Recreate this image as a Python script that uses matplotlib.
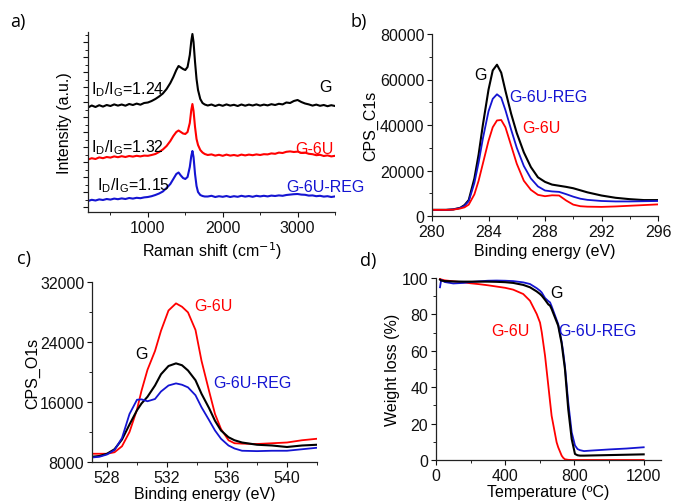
import matplotlib
matplotlib.use("Agg")
import matplotlib.pyplot as plt
from matplotlib.ticker import MultipleLocator, NullFormatter

plt.rcParams['font.family'] = ['Liberation Sans', 'DejaVu Sans']
plt.rcParams['font.size'] = 11.5

BLACK = '#000000'
RED = '#ff0000'
BLUE = '#1414d2'

# ---- a) Raman spectra (offset, arbitrary units) ----
raman_x = [200, 250, 300, 350, 400, 450, 500, 550, 600, 650, 700, 750, 800, 850, 900,
           950, 1000, 1050, 1100, 1150, 1200, 1250, 1300, 1340, 1380, 1410, 1440, 1470,
           1500, 1530, 1560, 1580, 1595, 1610, 1630, 1650, 1670, 1700, 1730, 1760, 1800,
           1850, 1900, 1950, 2000, 2050, 2100, 2150, 2200, 2250, 2300, 2350, 2400, 2450,
           2500, 2550, 2600, 2650, 2700, 2750, 2800, 2850, 2900, 2950, 3000, 3050, 3100,
           3150, 3200, 3250, 3300, 3350, 3400, 3450, 3500]
raman_g = [99.5, 101.5, 100, 101.8, 100.4, 102, 101, 102.6, 101.4, 102.5, 101.3, 103, 102,
           103.4, 102.3, 104, 104.5, 106, 108, 110.5, 113.5, 118, 124, 130, 137, 141, 139.5,
           138, 137, 140, 152, 166, 173, 165, 145, 128, 117, 108, 104, 102.5, 101.5,
           102.5, 101, 102.3, 101.2, 102.6, 101.4, 102.2, 101, 102.5, 101.3, 102.4, 101.5,
           102.6, 101.4, 102.4, 101.6, 102.8, 102, 103.2, 102.6, 104.5, 104, 106, 107, 105,
           103.5, 102.6, 101.4, 102.4, 101.2, 102, 100.8, 101.8, 101]
raman_g6u = [47.5, 48.8, 48, 49.6, 48.8, 50, 49.4, 50.6, 49.8, 50.8, 50, 51, 50.4, 51.2, 50.6,
             51.4, 51.2, 52, 53, 55, 57.5, 61, 66, 71, 75, 76.5, 75, 73.5, 73, 75, 84, 97,
             103, 96, 80, 68, 62, 57, 54.5, 53, 52,
             52.6, 51.4, 52.2, 51.2, 52.4, 51.4, 52, 51.2, 52.4, 51.6, 52.4, 51.8, 52.6,
             52, 52.8, 52.6, 53.6, 53.2, 54.4, 54, 55.2, 55.6, 55, 55.4, 54.2, 54.4, 53.2,
             52.8, 51.8, 52.2, 51, 51.6, 50.6, 51.2]
raman_g6ureg = [6, 7.2, 6.5, 7.6, 7, 8, 7.4, 8.4, 7.8, 8.6, 8, 9, 8.4, 9.2, 8.8,
                9.6, 10, 10.8, 12, 13.5, 15.5, 19, 23, 28, 33, 34.5, 31.5, 29, 28, 30, 40,
                51, 56, 50, 33, 21, 15, 12, 11, 10.5, 10.5,
                11.2, 10, 10.8, 10.2, 11, 10, 10.8, 10.2, 11.2, 10.4, 11, 10.2, 11.2,
                10.6, 11.2, 10.6, 11.4, 11, 11.6, 11.2, 12, 12.4, 12.8, 13, 12.4, 12.2,
                11.4, 11.6, 10.8, 11.2, 10.4, 10.8, 10, 10.6]
raman_ratios = ['1.24', '1.32', '1.15']

# ---- b) C1s XPS ----
c1s_x = [280, 281, 281.5, 282, 282.3, 282.6, 283, 283.3, 283.6, 284, 284.3, 284.6, 284.9,
         285.2, 285.6, 286, 286.5, 287, 287.5, 288, 288.5, 289, 289.5, 290, 290.5, 291,
         292, 293, 294, 295, 296]
c1s_g = [2700, 2700, 2900, 3600, 4800, 7000, 16500, 27000, 40000, 55500, 64000, 66500,
         63000, 55000, 45000, 36500, 28000, 21500, 17000, 15000, 13800, 13300, 12800,
         12200, 11300, 10400, 9000, 8000, 7400, 7000, 7000]
c1s_g6u = [2700, 2700, 2800, 3300, 3800, 5000, 9500, 15500, 23000, 33000, 39000, 42000,
           42200, 39000, 31000, 23000, 15500, 11500, 9300, 8700, 9100, 9000, 6800, 5000,
           4300, 4100, 4000, 4200, 4500, 4800, 5100]
c1s_g6ureg = [2700, 2700, 2900, 3500, 4500, 6500, 14500, 23500, 34000, 46000, 51500, 53500,
              52000, 46500, 38000, 30000, 22000, 16500, 13000, 11200, 10800, 10600, 9600,
              8500, 7600, 7100, 6600, 6400, 6400, 6500, 6600]

# ---- c) O1s XPS ----
o1s_x = [527, 527.5, 528, 528.5, 529, 529.5, 530, 530.3, 530.7, 531.2, 531.6, 532.1, 532.6,
         533, 533.4, 533.9, 534.3, 534.8, 535.2, 535.6, 536.1, 536.5, 537, 538, 539, 540,
         541, 542]
o1s_g = [8700, 8800, 9100, 9700, 11000, 13000, 14900, 15800, 16700, 18200, 19700, 20800,
         21150, 20900, 20200, 18900, 17100, 15200, 13500, 12200, 11300, 10900, 10600,
         10300, 10200, 10000, 10200, 10300]
o1s_g6u = [9100, 9100, 9100, 9300, 10100, 12000, 15000, 17500, 20300, 22800, 25500, 28200,
           29150, 28700, 27950, 25600, 21500, 17500, 14400, 12400, 10900, 10500, 10450,
           10400, 10500, 10600, 10900, 11100]
o1s_g6ureg = [8600, 8700, 9000, 9600, 11200, 14400, 16300, 16350, 16100, 16400, 17400, 18200,
              18480, 18300, 17950, 16900, 15300, 13600, 12200, 11100, 10200, 9800, 9500,
              9450, 9500, 9500, 9700, 9900]

# ---- d) TGA ----
tga_x = [23, 30, 50, 100, 158, 200, 250, 300, 350, 400, 446, 504, 543, 582, 601, 611, 630,
         649, 659, 668, 697, 706, 726, 735, 745, 764, 784, 803, 818, 832, 855, 900, 1000,
         1100, 1200]
tga_g = [99.1, 98.6, 98.3, 98.1, 98.0, 98.0, 98.0, 98.0, 97.9, 97.7, 97.3, 96.2, 94.9,
         92.6, 91.2, 90.3, 88.0, 85.5, 84.8, 83.0, 76.0, 73.8, 64.0, 57.3, 50.0, 28.0,
         11.5, 3.3, 2.6, 2.4, 2.4, 2.5, 2.7, 2.9, 3.1]
tga_g6u = [99.5, 99.2, 98.7, 98.2, 97.6, 97.1, 96.6, 96.0, 95.3, 94.6, 93.6, 91.2, 87.5,
           80.2, 75.5, 70.2, 57.3, 40.8, 32.0, 24.3, 9.7, 7.0, 2.4, 1.2, 0.4, 0.1, 0, 0, 0,
           0, 0, 0, 0, 0, 0]
tga_g6ureg = [94.9, 99.0, 97.8, 97.0, 97.3, 97.8, 98.2, 98.5, 98.6, 98.5, 98.3, 97.6, 96.7,
              94.4, 93.0, 92.0, 89.0, 87.3, 86.6, 84.5, 77.0, 74.7, 65.0, 59.2, 51.5,
              31.7, 15.2, 8.0, 6.0, 5.4, 4.9, 5.2, 5.8, 6.3, 7.0]

W, H = 673, 502
fig = plt.figure(figsize=(W / 100, H / 100), dpi=100)


def make_axes(left, top, right, bottom):
    ax = fig.add_axes([left / W, 1 - bottom / H, (right - left) / W, (bottom - top) / H])
    ax.spines['top'].set_visible(False)
    ax.spines['right'].set_visible(False)
    for s in ('left', 'bottom'):
        ax.spines[s].set_linewidth(0.9)
        ax.spines[s].set_color('#222222')
    ax.tick_params(which='major', direction='out', length=3.5, width=0.8, pad=2,
                   labelsize=11.5, colors='#111111')
    ax.tick_params(which='minor', direction='out', length=2, width=0.7, colors='#222222')
    return ax


# a) Raman
ax = make_axes(88, 33, 335, 213)
ax.plot(raman_x, raman_g, color=BLACK, lw=1.5)
ax.plot(raman_x, raman_g6u, color=RED, lw=1.5)
ax.plot(raman_x, raman_g6ureg, color=BLUE, lw=1.5)
ax.set_xlim(200, 3500)
ax.set_ylim(-5, 175)
ax.xaxis.set_major_locator(MultipleLocator(1000))
ax.xaxis.set_minor_locator(MultipleLocator(500))
ax.yaxis.set_major_locator(MultipleLocator(15))
ax.yaxis.set_minor_locator(MultipleLocator(7.5))
ax.yaxis.set_major_formatter(NullFormatter())
ax.set_xlabel('Raman shift (cm$^{-1}$)', labelpad=3)
ax.set_ylabel('Intensity (a.u.)', labelpad=6)
for (xx, yy), r in zip([(240, 118), (240, 60), (320, 22)], raman_ratios):
    ax.text(xx, yy, r'I$_\mathregular{D}$/I$_\mathregular{G}$=' + r, va='center', ha='left',
            fontsize=11.5)
ax.text(3460, 121, 'G', color=BLACK, ha='right', va='center', fontsize=11.5)
ax.text(3480, 58, 'G-6U', color=RED, ha='right', va='center', fontsize=11.5)
ax.text(2850, 21, 'G-6U-REG', color=BLUE, ha='left', va='center', fontsize=11.5)

# b) C1s
ax = make_axes(432, 35, 658, 217)
ax.plot(c1s_x, c1s_g, color=BLACK, lw=1.5)
ax.plot(c1s_x, c1s_g6ureg, color=BLUE, lw=1.3)
ax.plot(c1s_x, c1s_g6u, color=RED, lw=1.3)
ax.set_xlim(280, 296)
ax.set_ylim(0, 80000)
ax.xaxis.set_major_locator(MultipleLocator(4))
ax.xaxis.set_minor_locator(MultipleLocator(2))
ax.yaxis.set_major_locator(MultipleLocator(20000))
ax.yaxis.set_minor_locator(MultipleLocator(10000))
ax.set_xlabel('Binding energy (eV)', labelpad=3)
ax.set_ylabel('CPS_C1s', labelpad=1)
ax.text(283.0, 62000, 'G', color=BLACK, ha='left', va='center')
ax.text(285.45, 52500, 'G-6U-REG', color=BLUE, ha='left', va='center')
ax.text(286.4, 39000, 'G-6U', color=RED, ha='left', va='center')

# c) O1s
ax = make_axes(92, 283, 317, 463)
ax.plot(o1s_x, o1s_g6u, color=RED, lw=1.3)
ax.plot(o1s_x, o1s_g, color=BLACK, lw=1.5)
ax.plot(o1s_x, o1s_g6ureg, color=BLUE, lw=1.3)
ax.set_xlim(527, 542)
ax.set_ylim(8000, 32000)
ax.xaxis.set_major_locator(MultipleLocator(4))
ax.xaxis.set_minor_locator(MultipleLocator(2))
ax.yaxis.set_major_locator(MultipleLocator(8000))
ax.yaxis.set_minor_locator(MultipleLocator(4000))
ax.set_xlabel('Binding energy (eV)', labelpad=1)
ax.set_ylabel('CPS_O1s', labelpad=0)
ax.text(533.8, 28800, 'G-6U', color=RED, ha='left', va='center')
ax.text(529.85, 22500, 'G', color=BLACK, ha='left', va='center')
ax.text(535.1, 18600, 'G-6U-REG', color=BLUE, ha='left', va='center')

# d) TGA
ax = make_axes(436, 279, 661, 461)
ax.plot(tga_x, tga_g6u, color=RED, lw=1.3)
ax.plot(tga_x, tga_g6ureg, color=BLUE, lw=1.3)
ax.plot(tga_x, tga_g, color=BLACK, lw=1.5)
ax.set_xlim(0, 1300)
ax.set_ylim(0, 100)
ax.xaxis.set_major_locator(MultipleLocator(400))
ax.xaxis.set_minor_locator(MultipleLocator(200))
ax.yaxis.set_major_locator(MultipleLocator(20))
ax.yaxis.set_minor_locator(MultipleLocator(10))
ax.set_xlabel('Temperature (ºC)', labelpad=1)
ax.set_ylabel('Weight loss (%)', labelpad=1)
ax.text(659, 92, 'G', color=BLACK, ha='left', va='center')
ax.text(322, 71, 'G-6U', color=RED, ha='left', va='center')
ax.text(707, 71, 'G-6U-REG', color=BLUE, ha='left', va='center')

# panel letters
for label, (px, py) in zip(['a)', 'b)', 'c)', 'd)'],
                           [(10, 22), (350, 22), (17, 259), (360, 261)]):
    fig.text(px / W, 1 - py / H, label, ha='left', va='center', fontsize=13,
             family=['Open Sans', 'DejaVu Sans'])

fig.savefig('out.png', dpi=100)
